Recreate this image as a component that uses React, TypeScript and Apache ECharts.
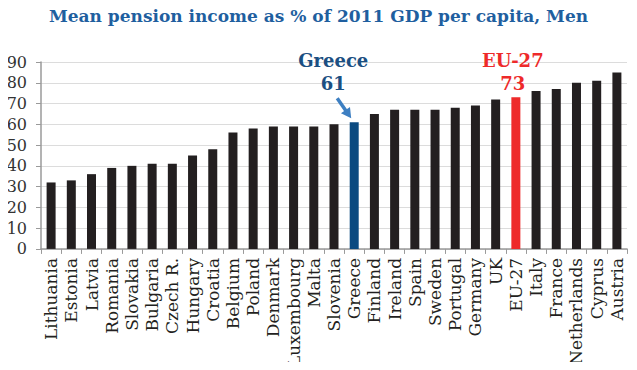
import React, { useEffect, useRef } from "react";
import * as echarts from "echarts";

const titleText = "Mean pension income as % of 2011 GDP per capita, Men";
const countries = [
  "Lithuania", "Estonia", "Latvia", "Romania", "Slovakia", "Bulgaria", "Czech R.",
  "Hungary", "Croatia", "Belgium", "Poland", "Denmark", "Luxembourg", "Malta",
  "Slovenia", "Greece", "Finland", "Ireland", "Spain", "Sweden", "Portugal",
  "Germany", "UK", "EU-27", "Italy", "France", "Netherlands", "Cyprus", "Austria",
];
const values = [
  32, 33, 36, 39, 40, 41, 41, 45, 48, 56, 58, 59, 59, 59, 60, 61, 65, 67, 67, 67,
  68, 69, 72, 73, 76, 77, 80, 81, 85,
];
const yTicks = { min: 0, max: 90, interval: 10 };

const SERIF = "'DejaVu Serif', serif";
const DARK = "#231f20";
const GREECE_BAR = "#0b4a80";
const GREECE_TEXT = "#1b4f82";
const EU_RED = "#ee2a2a";
const ARROW = "#3d7fc2";

export default function App() {
  const ref = useRef<HTMLDivElement>(null);
  useEffect(() => {
    if (!ref.current) return;
    const chart = echarts.init(ref.current, undefined, { renderer: "svg" });
    const data = countries.map((c, i) => {
      const item: any = { value: values[i], itemStyle: { color: DARK } };
      if (c === "Greece") {
        item.itemStyle = { color: GREECE_BAR };
        item.label = {
          show: true,
          position: "top",
          distance: 5,
          offset: [-21, -22],
          formatter: () => `Greece\n${values[i]}`,
          fontFamily: SERIF,
          fontWeight: "bold",
          fontSize: 18,
          lineHeight: 23,
          color: GREECE_TEXT,
          align: "center",
        };
      }
      if (c === "EU-27") {
        item.itemStyle = { color: EU_RED };
        item.label = {
          show: true,
          position: "top",
          distance: 1,
          offset: [-3, -1],
          formatter: () => `EU-27\n${values[i]}`,
          fontFamily: SERIF,
          fontWeight: "bold",
          fontSize: 18,
          lineHeight: 23,
          color: EU_RED,
          align: "center",
        };
      }
      return item;
    });
    chart.setOption({
      animation: false,
      backgroundColor: "#ffffff",
      title: {
        text: titleText,
        left: "center",
        top: 2,
        textStyle: { fontFamily: SERIF, fontWeight: "bold", fontSize: 17, color: "#1f5f9f" },
      },
      grid: { left: 41, right: 10, top: 62, bottom: 120 },
      xAxis: {
        type: "category",
        data: countries,
        axisLine: { lineStyle: { color: "#9a9a9a", width: 1.5 } },
        axisTick: { show: true, length: 5, lineStyle: { color: "#9a9a9a" } },
        axisLabel: {
          rotate: 90,
          interval: 0,
          margin: 9,
          fontFamily: SERIF,
          fontSize: 17,
          color: DARK,
        },
      },
      yAxis: {
        type: "value",
        min: yTicks.min,
        max: yTicks.max,
        interval: yTicks.interval,
        axisLine: { show: true, lineStyle: { color: "#9a9a9a", width: 1.5 } },
        axisTick: { show: true, length: 5, lineStyle: { color: "#9a9a9a" } },
        splitLine: { lineStyle: { color: "#dcdcdc" } },
        axisLabel: { margin: 14, fontFamily: SERIF, fontSize: 16, color: "#333333" },
      },
      series: [{ type: "bar", data, barWidth: 9 }],
    });

    const gi = countries.indexOf("Greece");
    const p = chart.convertToPixel({ seriesIndex: 0 }, [gi, values[gi]]) as number[];
    const tip = [p[0] - 3, p[1] - 4];
    const tail = [p[0] - 17, p[1] - 24];
    const dx = tip[0] - tail[0], dy = tip[1] - tail[1];
    const len = Math.hypot(dx, dy);
    const ux = dx / len, uy = dy / len;
    const hl = 10, hw = 5.5;
    const base = [tip[0] - ux * hl, tip[1] - uy * hl];
    chart.setOption({
      graphic: [
        {
          type: "line",
          shape: { x1: tail[0], y1: tail[1], x2: base[0] + ux * 2, y2: base[1] + uy * 2 },
          style: { stroke: ARROW, lineWidth: 3.5 },
        },
        {
          type: "polygon",
          shape: {
            points: [
              tip,
              [base[0] - uy * hw, base[1] + ux * hw],
              [base[0] + uy * hw, base[1] - ux * hw],
            ],
          },
          style: { fill: ARROW },
        },
        {
          type: "polyline",
          shape: { points: [[622, 0], [622, 5], [622, 3], [633, 3], [633, 0], [633, 5]] },
          style: { stroke: "#333", lineWidth: 1, fill: "none" },
        },
      ],
    });
    return () => chart.dispose();
  }, []);
  return <div ref={ref} style={{ width: 637, height: 370, margin: -8 }} />;
}
